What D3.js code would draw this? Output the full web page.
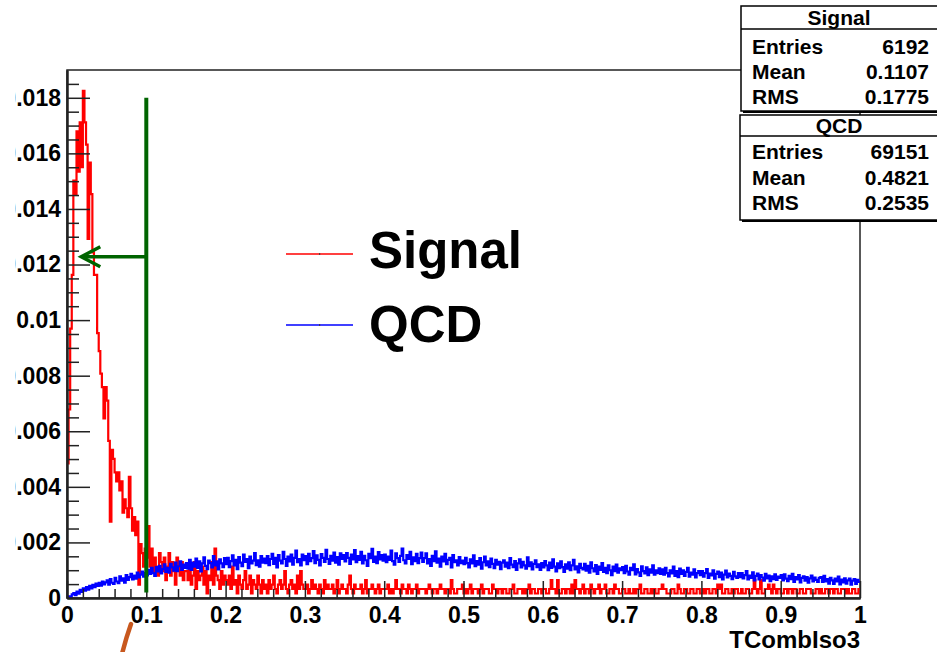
<!DOCTYPE html>
<html><head><meta charset="utf-8">
<script src="https://cdn.jsdelivr.net/npm/d3@7"></script>
<style>
body{margin:0;background:#fff}
svg{display:block}
text{font-family:"Liberation Sans",Arial,Helvetica,sans-serif;font-weight:bold;fill:#000}
</style>
</head><body>
<svg id="chart" width="937" height="652"></svg>
<script>
// ---------------- data ----------------
const nBins = 500;
const xDomain = [0, 1];
const yDomain = [0, 0.019];
const xTitle = "TCombIso3";
const seriesNames = ["Signal", "QCD"];
const signalStats = {Entries: "6192", Mean: "0.1107", RMS: "0.1775"};
const qcdStats = {Entries: "69151", Mean: "0.4821", RMS: "0.2535"};
const signalEntries = 6192;
const qcdEntries = 69151;
// bin contents (in units of 1/entries), 25 bins per row = 0.05 in x
const signalCounts = [
30,42,60,72,93,90,104,95,106,96,113,106,101,80,97,90,77,72,72,59,55,50,47,40,47,
44,35,17,33,31,28,26,28,24,26,19,22,20,18,27,20,15,18,14,17,3,12,10,7,11,
9,16,7,11,6,9,7,5,10,8,6,9,4,7,10,5,8,6,3,9,7,5,8,4,6,
6,4,7,3,5,8,2,6,4,5,7,3,6,1,5,4,8,3,11,5,4,2,6,3,5,
4,3,5,2,7,3,4,1,5,3,2,4,6,2,3,5,1,4,3,2,5,3,1,4,2,
3,1,4,2,3,5,2,1,3,4,2,3,6,2,1,3,4,2,3,1,5,2,6,3,2,
2,3,1,2,4,2,3,2,1,3,2,1,4,2,3,2,2,3,1,2,4,1,2,3,2,
2,1,3,5,2,1,3,2,2,2,3,1,2,4,1,2,2,3,2,1,2,3,1,2,2,
2,2,3,1,2,1,2,4,2,2,1,3,2,2,1,3,2,1,2,2,3,1,2,2,2,
2,1,2,3,2,1,2,2,1,2,3,2,2,1,2,2,1,4,2,1,1,2,2,2,3,
1,2,1,2,3,1,2,2,2,1,2,3,1,2,2,2,1,1,3,2,2,1,2,2,1,
2,2,1,1,2,2,3,1,1,2,2,2,1,2,1,2,3,1,2,2,1,1,2,2,1,
2,2,1,1,2,4,2,2,1,4,1,1,2,2,1,2,2,1,3,1,4,2,2,1,2,
3,1,2,2,1,3,2,1,2,2,3,1,2,2,3,1,1,2,2,1,3,2,2,1,1,
2,2,1,1,2,1,1,2,1,2,2,3,1,1,2,2,1,1,2,1,2,1,1,2,2,
3,2,2,1,1,1,2,2,1,1,3,2,1,1,2,2,1,1,2,2,1,1,2,2,1,
1,2,1,2,2,1,1,2,2,1,3,2,3,1,1,2,2,1,1,2,1,2,2,1,1,
2,1,1,2,2,1,1,2,4,2,1,2,4,1,1,2,2,3,2,1,3,2,1,2,2,
1,1,2,2,1,2,2,1,2,2,1,1,2,2,1,1,2,2,2,1,1,1,2,2,1,
2,1,1,2,2,1,2,2,1,2,2,1,1,2,2,2,1,2,1,1,2,2,1,1,2
];
const qcdCounts = [
0,4,2,9,12,7,16,11,20,15,24,18,27,21,30,24,33,27,36,30,38,31,41,34,39,
44,33,47,38,35,50,41,37,54,43,49,38,57,45,52,60,46,56,48,63,51,58,66,53,62,
56,70,60,75,62,55,77,66,80,61,72,84,65,75,63,85,76,68,88,67,79,91,70,83,75,
87,73,95,70,88,78,98,75,91,66,86,101,80,72,93,87,76,104,81,91,71,96,86,77,99,
84,100,77,92,106,81,95,72,102,88,79,108,90,97,74,103,86,93,112,82,94,78,104,88,98,
87,104,82,97,110,85,100,76,107,93,86,115,97,80,103,91,108,83,100,118,89,97,81,108,94,
104,84,110,92,99,117,87,106,95,81,109,100,90,120,97,85,105,93,113,88,102,83,111,97,107,
91,112,100,85,108,96,119,89,104,95,115,86,105,94,80,110,99,122,90,103,87,114,96,107,93,
108,89,103,95,118,92,83,111,99,90,105,123,94,86,107,97,115,84,101,92,110,87,99,113,90,
99,111,86,97,80,105,92,116,88,98,78,103,91,110,84,95,100,76,107,89,94,81,102,87,93,
84,100,87,76,96,86,106,79,92,83,99,73,89,103,81,91,77,98,85,74,95,83,90,72,88,
94,78,88,74,99,83,77,92,70,86,96,76,90,81,73,101,79,89,71,85,94,77,84,70,87,
76,92,81,69,88,75,96,78,66,86,74,91,77,65,84,73,89,69,81,95,71,79,64,85,75,
71,85,68,80,63,89,74,66,82,60,78,70,87,65,75,62,81,69,57,78,67,83,63,74,69,
77,62,80,66,58,75,69,84,59,72,64,55,79,67,61,76,57,71,63,81,58,69,62,74,60,
71,58,75,62,54,69,61,78,55,67,52,73,60,69,55,65,75,53,63,58,71,51,62,67,57,
67,53,62,72,50,61,56,69,48,60,66,52,63,46,58,68,51,61,55,47,65,54,50,62,52,
62,49,57,67,46,56,50,64,44,55,61,46,57,51,43,60,49,56,42,54,47,59,45,53,50,
57,44,59,48,42,55,47,60,40,52,46,57,39,50,54,43,52,38,49,56,41,51,45,40,50,
52,40,55,41,47,36,50,44,35,48,41,53,34,46,39,49,36,44,48,33,43,47,35,45,40
];
const xMajorTicks = [0,0.1,0.2,0.3,0.4,0.5,0.6,0.7,0.8,0.9,1];
const xTickLabels = ["0","0.1","0.2","0.3","0.4","0.5","0.6","0.7","0.8","0.9","1"];
const yMajorTicks = [0,0.002,0.004,0.006,0.008,0.01,0.012,0.014,0.016,0.018];
const yTickLabels = ["0","0.002","0.004","0.006","0.008","0.01","0.012","0.014","0.016","0.018"];
const cutValue = 0.1;          // green cut line
const cutRange = [0.0002, 0.018];
const arrowLevel = 0.01228;
const arrowTipX = 0.018;

// ---------------- drawing ----------------
const svg = d3.select("#chart");
const x = d3.scaleLinear().domain(xDomain).range([67, 860]);
const y = d3.scaleLinear().domain(yDomain).range([598, 70]);

const xMinor = d3.range(0, 50).map(i => i * 0.02).filter(v => Math.abs(v*10 - Math.round(v*10)) > 1e-6);
const yMinor = d3.range(0, 38).map(i => i * 0.0005).filter(v => Math.abs(v/0.002 - Math.round(v/0.002)) > 1e-6);

// frame
svg.append("rect").attr("x", x(0)).attr("y", y(yDomain[1]))
  .attr("width", x(1) - x(0)).attr("height", y(0) - y(yDomain[1]))
  .attr("fill", "none").attr("stroke", "#222").attr("stroke-width", 1.5);

// histograms
function histLine(counts, entries) {
  const pts = counts.map((c, i) => [i / nBins, c / entries]);
  pts.push([1, counts[counts.length - 1] / entries]);
  return d3.line().x(d => x(d[0])).y(d => y(d[1])).curve(d3.curveStepAfter)(pts);
}
svg.append("path").attr("d", histLine(signalCounts, signalEntries))
  .attr("fill", "none").attr("stroke", "#ff0000").attr("stroke-width", 2.2);
svg.append("path").attr("d", histLine(qcdCounts, qcdEntries))
  .attr("fill", "none").attr("stroke", "#0000ff").attr("stroke-width", 2.2);

// axes
function styleAxis(g) {
  g.selectAll("path.domain").attr("stroke", "#222").attr("stroke-width", 2);
  g.selectAll(".tick line").attr("stroke", "#222").attr("stroke-width", 1.5);
  g.selectAll("text").attr("font-size", 23).attr("font-family", '"Liberation Sans",Arial,sans-serif').attr("font-weight", "bold").attr("fill", "#000");
}
const yAxisMajor = d3.axisLeft(y).tickValues(yMajorTicks).tickSizeInner(-23).tickSizeOuter(0).tickPadding(6)
  .tickFormat((d, i) => yTickLabels[i]);
const yAxisMinor = d3.axisLeft(y).tickValues(yMinor).tickSizeInner(-12).tickSizeOuter(0).tickFormat("");
svg.append("g").attr("transform", `translate(${x(0)},0)`).call(yAxisMinor).call(styleAxis);
svg.append("g").attr("transform", `translate(${x(0)},0)`).call(yAxisMajor).call(styleAxis);

const xAxisMajor = d3.axisBottom(x).tickValues(xMajorTicks).tickSizeInner(-17).tickSizeOuter(0).tickPadding(9)
  .tickFormat((d, i) => xTickLabels[i]);
const xAxisMinor = d3.axisBottom(x).tickValues(xMinor).tickSizeInner(-9).tickSizeOuter(0).tickFormat("");
svg.append("g").attr("transform", `translate(0,${y(0)})`).call(xAxisMinor).call(styleAxis);
svg.append("g").attr("transform", `translate(0,${y(0)})`).call(xAxisMajor).call(styleAxis);

svg.append("text").attr("x", 860).attr("y", 648).attr("text-anchor", "end")
  .attr("font-size", 24).text(xTitle);

// the picture is cropped on its left side
svg.append("rect").attr("x", 0).attr("y", 0).attr("width", 15.5).attr("height", 652).attr("fill", "#fff");

// green cut line + arrow
const green = "#006400";
svg.append("line").attr("x1", x(cutValue)).attr("x2", x(cutValue))
  .attr("y1", y(cutRange[0])).attr("y2", y(cutRange[1]))
  .attr("stroke", green).attr("stroke-width", 4);
const ay = y(arrowLevel), ax = x(arrowTipX);
svg.append("line").attr("x1", x(cutValue)).attr("x2", ax + 1).attr("y1", ay).attr("y2", ay)
  .attr("stroke", green).attr("stroke-width", 3.5);
svg.append("path").attr("d", `M${ax + 19},${ay - 10} L${ax},${ay} L${ax + 19},${ay + 10}`)
  .attr("fill", "none").attr("stroke", green).attr("stroke-width", 3.5);

// legend
const legendColors = ["#ff0000", "#0000ff"];
const legendY = [254, 325];
const legendBase = [268, 342];
seriesNames.forEach((name, i) => {
  svg.append("line").attr("x1", 286).attr("x2", 353).attr("y1", legendY[i]).attr("y2", legendY[i])
    .attr("stroke", legendColors[i]).attr("stroke-width", 1.5);
  svg.append("rect").attr("x", 319).attr("y", legendY[i] - 0.75).attr("width", 1.2).attr("height", 1.5).attr("fill", "#333");
  svg.append("text").attr("x", 369).attr("y", legendBase[i]).attr("font-size", 51).text(name);
});

// stat boxes
function statBox(x0, y0, h, title, stats, rows, headBase, sepY) {
  svg.append("rect").attr("x", x0 + 2).attr("y", y0 + 2).attr("width", 230).attr("height", h).attr("fill", "#000");
  svg.append("rect").attr("x", x0).attr("y", y0).attr("width", 230).attr("height", h)
    .attr("fill", "#fff").attr("stroke", "#000").attr("stroke-width", 1.5);
  svg.append("line").attr("x1", x0).attr("x2", x0 + 230).attr("y1", sepY).attr("y2", sepY)
    .attr("stroke", "#000").attr("stroke-width", 1.5);
  svg.append("text").attr("x", 839).attr("y", headBase).attr("text-anchor", "middle").attr("font-size", 21).text(title);
  Object.keys(stats).forEach((k, i) => {
    svg.append("text").attr("x", 752).attr("y", rows[i]).attr("font-size", 21).text(k);
    svg.append("text").attr("x", 929).attr("y", rows[i]).attr("text-anchor", "end").attr("font-size", 21).text(stats[k]);
  });
}
statBox(741, 6, 105, seriesNames[0], signalStats, [54, 79, 104], 25, 29);
statBox(740, 115, 105, seriesNames[1], qcdStats, [159, 185, 210], 133, 136);

// orange annotation stroke
svg.append("path").attr("d", "M122,654 Q126,638 131,624")
  .attr("fill", "none").attr("stroke", "#c8581e").attr("stroke-width", 4.5).attr("stroke-linecap", "round");
</script>
</body></html>
